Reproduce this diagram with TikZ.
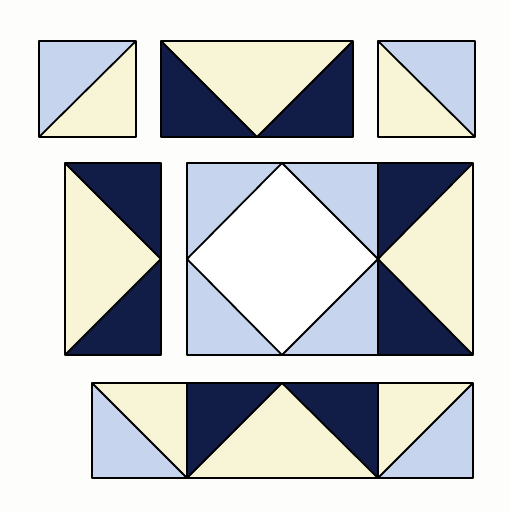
\documentclass[tikz,border=0pt]{standalone}
\definecolor{lblue}{HTML}{C6D4EE}
\definecolor{cream}{HTML}{F8F4D6}
\definecolor{navy}{HTML}{121D47}
\definecolor{bg}{HTML}{FDFDFB}
\tikzset{
  edge/.style={draw=black,line width=1.8pt,line join=round},
  piece/.style={line join=round}
}
\begin{document}
\begin{tikzpicture}[x=1pt,y=-1pt]
\fill[bg] (0,0) rectangle (510,512);
\useasboundingbox (0,0) rectangle (510,512);
% ---- top left square
\fill[lblue] (39,41)--(136,41)--(39,137)--cycle;
\fill[cream] (136,41)--(136,137)--(39,137)--cycle;
\draw[edge] (39,41) rectangle (136,137);
\draw[edge] (39,137)--(136,41);
% ---- top middle rectangle
\fill[navy] (161,41) rectangle (353,137);
\fill[cream] (161,41)--(353,41)--(257,137)--cycle;
\draw[edge] (161,41) rectangle (353,137);
\draw[edge] (161,41)--(257,137)--(353,41);
% ---- top right square
\fill[lblue] (378,41)--(475,41)--(475,137)--cycle;
\fill[cream] (378,41)--(475,137)--(378,137)--cycle;
\draw[edge] (378,41) rectangle (475,137);
\draw[edge] (378,41)--(475,137);
% ---- middle left rectangle
\fill[navy] (65,163) rectangle (161,355);
\fill[cream] (65,163)--(161,259)--(65,355)--cycle;
\draw[edge] (65,163) rectangle (161,355);
\draw[edge] (65,163)--(161,259)--(65,355);
% ---- centre square
\fill[lblue] (187,163) rectangle (378,355);
\fill[white] (282,163)--(378,259)--(282,355)--(187,259)--cycle;
\draw[edge] (187,163) rectangle (378,355);
\draw[edge] (282,163)--(378,259)--(282,355)--(187,259)--cycle;
% ---- middle right rectangle
\fill[navy] (378,163) rectangle (473,355);
\fill[cream] (473,163)--(378,259)--(473,355)--cycle;
\draw[edge] (378,163) rectangle (473,355);
\draw[edge] (473,163)--(378,259)--(473,355);
% ---- bottom row
\fill[cream] (92,383) rectangle (187,478);
\fill[lblue] (92,383)--(187,478)--(92,478)--cycle;
\fill[navy] (187,383) rectangle (378,478);
\fill[cream] (187,478)--(282,383)--(378,478)--cycle;
\fill[cream] (378,383) rectangle (473,478);
\fill[lblue] (473,383)--(473,478)--(378,478)--cycle;
\draw[edge] (92,383) rectangle (473,478);
\draw[edge] (187,383)--(187,478);
\draw[edge] (378,383)--(378,478);
\draw[edge] (92,383)--(187,478);
\draw[edge] (187,478)--(282,383)--(378,478);
\draw[edge] (378,478)--(473,383);
\end{tikzpicture}
\end{document}
